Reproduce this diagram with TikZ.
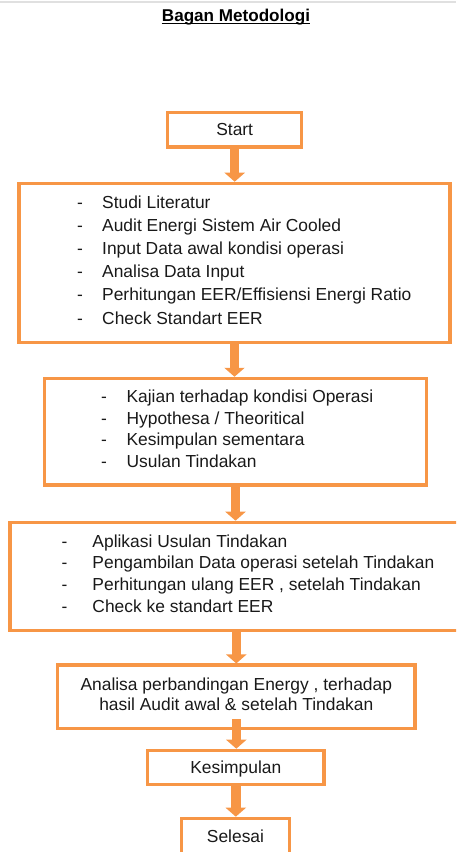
\documentclass[tikz,border=0pt]{standalone}
\usepackage{fontspec}
\setmainfont{Liberation Sans}
\usetikzlibrary{arrows.meta,positioning}
\definecolor{bagorange}{RGB}{247,150,70}
\newcommand{\itm}[2][25pt]{\makebox[#1][l]{-}#2}

\begin{document}
\begin{tikzpicture}[
  x=1pt, y=-1pt,
  font=\fontsize{17.4}{23.2}\selectfont,
  box/.style={draw=bagorange, line width=3.2pt, inner sep=0pt, text=black!90,
              text height=12pt, text depth=0pt},
  lst/.style={anchor=north west, inner sep=0pt, align=left, text=black!90},
  a/.style={draw=bagorange, line width=9.5pt, -{Triangle[width=20pt,length=9pt]}}
]
\clip (0,0) rectangle (456,852);
\draw[black!12, line width=1.5pt] (0,2) -- (456,2);

\node[font=\fontsize{17.1}{20}\selectfont\bfseries, inner sep=0pt, anchor=base] (title) at (236,21) {Bagan Metodologi};
\draw[line width=1.1pt] ([yshift=-2.6pt]title.base west) -- ([yshift=-2.6pt]title.base east);

\node[box, minimum width=134pt, minimum height=34.7pt] (start) at (234.7,129.7) {Start};
\node[box, minimum width=431pt, minimum height=159.2pt] (lit) at (234.5,262.9) {};
\node[box, minimum width=382.4pt, minimum height=106.7pt] (kaji) at (235.5,431.7) {};
\node[box, minimum width=460pt, minimum height=108.2pt] (apl) at (240,576.4) {};
\node[box, minimum width=357.5pt, minimum height=63.5pt] (ana) at (236.3,696.8) {};
\node[box, minimum width=176.5pt, minimum height=34.2pt] (kes) at (235.8,767.4) {Kesimpulan};
\node[box, minimum width=108pt, minimum height=36.8pt] (sel) at (235.5,836.7) {Selesai};

\node[lst] (litl) at (77,195.3) {\itm{Studi Literatur}\\ \itm{Audit Energi Sistem Air Cooled}\\
  \itm{Input Data awal kondisi operasi}\\ \itm{Analisa Data Input}\\
  \itm{Perhitungan EER/Effisiensi Energi Ratio}\\ \itm{Check Standart EER}};
\node[lst, font=\fontsize{17.4}{21.5}\selectfont] (kajil) at (101,390) {\itm[25.4pt]{Kajian terhadap kondisi Operasi}\\
  \itm[25.4pt]{Hypothesa / Theoritical}\\ \itm[25.4pt]{Kesimpulan sementara}\\ \itm[25.4pt]{Usulan Tindakan}};
\node[lst, font=\fontsize{17.4}{21.7}\selectfont] (apll) at (61.3,534.2) {\itm[31pt]{Aplikasi Usulan Tindakan}\\
  \itm[31pt]{Pengambilan Data operasi setelah Tindakan}\\
  \itm[31pt]{Perhitungan ulang EER , setelah Tindakan}\\ \itm[31pt]{Check ke standart EER}};
\node[anchor=north, inner sep=0pt, align=center, text=black!90, font=\fontsize{17.4}{20.7}\selectfont] (anal) at (236.3,677.3)
  {Analisa perbandingan Energy , terhadap\\ hasil Audit awal \& setelah Tindakan};

\draw[a] (start.south) -- (start.south |- lit.north);
\draw[a] (lit.south) -- (lit.south |- kaji.north);
\draw[a] (kaji.south) -- (kaji.south |- apl.north);
\draw[a] (ana.north |- apl.south) -- (ana.north);
\draw[a] ([yshift=11pt]ana.south) -- (ana.south |- kes.north);
\draw[a] (kes.south) -- (kes.south |- sel.north);
\end{tikzpicture}
\end{document}
